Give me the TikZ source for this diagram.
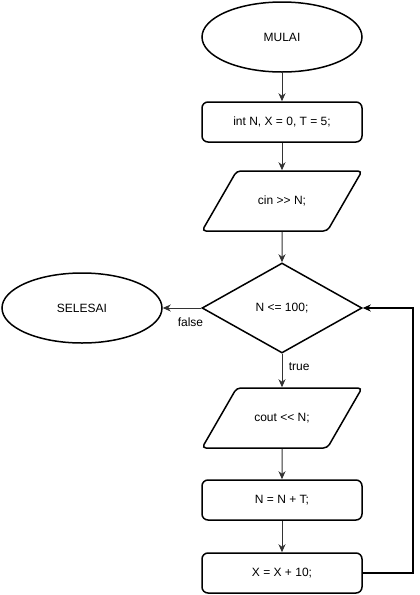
\documentclass[tikz,border=0pt]{standalone}
\usepackage{fontspec}
\setmainfont{Liberation Sans}
\usetikzlibrary{shapes.geometric,arrows.meta}

\begin{document}
\begin{tikzpicture}[x=1pt,y=-1pt,
    font=\fontsize{12}{14}\selectfont,
    terminal/.style={ellipse,draw,line width=1.5pt,minimum width=160pt,minimum height=70pt,inner sep=0pt},
    process/.style={rectangle,rounded corners=6pt,draw,line width=1.5pt,minimum width=160pt,minimum height=40pt,inner sep=0pt},
    io/.style={trapezium,trapezium left angle=60,trapezium right angle=120,trapezium stretches body,
      rounded corners=4pt,draw,line width=1.5pt,minimum width=160pt,text height=9pt,text depth=3pt,
      inner xsep=0pt,inner ysep=24pt},
    decision/.style={diamond,draw,line width=1.5pt,minimum width=160pt,minimum height=90pt,inner sep=0pt},
    arr/.style={-{Stealth[length=8pt,width=7pt,inset=2.5pt]},line width=1pt,black!80}]
  \useasboundingbox (0,0) rectangle (420,595);
  \node [terminal] (start) at (282,37) {MULAI};
  \node [process] (init) at (282,122) {int N, X = 0, T = 5;};
  \node [io] (input) at (282,201) {cin >{}> N;};
  \node [decision] (cond) at (282,308) {N <= 100;};
  \node [terminal] (stop) at (82,308) {SELESAI};
  \node [io] (output) at (282,418) {cout <{}< N;};
  \node [process] (upd) at (282,500) {N = N + T;};
  \node [process] (incr) at (282,573) {X = X + 10;};
  \draw [arr] (start) -- (init);
  \draw [arr] (init) -- (input);
  \draw [arr] (input) -- (cond);
  \draw [arr] (cond) -- node [pos=0.4,anchor=west,xshift=3pt,black] {true} (output);
  \draw [arr] (cond) -- node [pos=0.28,below=6pt,black] {false} (stop);
  \draw [arr] (output) -- (upd);
  \draw [arr] (upd) -- (incr);
  \draw [arr,line width=1.5pt,black] (incr.east) -- ++(50,0) |- (cond.east);
\end{tikzpicture}
\end{document}
